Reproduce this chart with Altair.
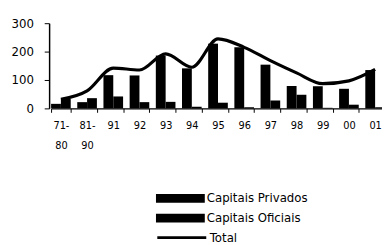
import altair as alt
import pandas as pd

categorias = ["71-80", "81-90", "91", "92", "93", "94", "95", "96", "97", "98", "99", "00", "01"]
privados = [16, 22, 117, 116, 186, 141, 228, 215, 154, 79, 78, 69, 135]
oficiais = [33, 36, 42, 22, 23, 6, 20, 4, 28, 48, 2, 13, 4]
total = [32, 62, 142, 135, 192, 145, 245, 215, 168, 125, 87, 97, 137]
y_ticks = [0, 100, 200, 300]

SER_P = "Capitais Privados"
SER_O = "Capitais Oficiais"
SER_T = "Total"

n = len(categorias)
bars_df = pd.DataFrame({
    "periodo": categorias * 2,
    "serie": [SER_P] * n + [SER_O] * n,
    "valor": privados + oficiais,
})
line_df = pd.DataFrame({"periodo": categorias, "valor": total, "serie": [SER_T] * n})

FONT = "DejaVu Sans"

xscale = alt.Scale(domain=categorias, range=[2, 343], paddingInner=0.25, paddingOuter=0)
yscale = alt.Scale(domain=[0, 300], nice=False)

x_axis = alt.Axis(
    title=None, labelAngle=0, tickBand="extent", tickSize=4, tickColor="black",
    domainColor="black", domainWidth=1.5, labelFont=FONT, labelFontSize=10, labelColor="black",
    labelPadding=9, labelLineHeight=20, labelBaseline="top",
    labelExpr="indexof(datum.label, '-') > 0 ? [slice(datum.label, 0, 3), slice(datum.label, 3)] : datum.label",
)
y_axis = alt.Axis(
    title=None, values=y_ticks, tickSize=5, tickColor="black", domainColor="black",
    domainWidth=1.5, labelFont=FONT, labelFontSize=12, labelColor="black", labelPadding=11,
    grid=False, labelOverlap=False,
)

bars = alt.Chart(bars_df).mark_bar(opacity=1).encode(
    x=alt.X("periodo:N", scale=xscale, axis=x_axis, sort=categorias),
    xOffset=alt.XOffset("serie:N", sort=[SER_P, SER_O], scale=alt.Scale(paddingInner=0, paddingOuter=0)),
    y=alt.Y("valor:Q", scale=yscale, axis=y_axis),
    color=alt.Color(
        "serie:N",
        scale=alt.Scale(domain=[SER_P, SER_O], range=["black", "black"]),
        legend=alt.Legend(
            title=None, orient="none", legendX=109, legendY=173, padding=0,
            symbolType="M-1,-0.18H1V0.18H-1Z", symbolSize=2500, symbolStrokeWidth=0,
            symbolOpacity=1, labelFont=FONT, labelFontSize=12, labelColor="black",
            labelOffset=2, rowPadding=8, clipHeight=12,
        ),
    ),
)

line = alt.Chart(line_df).mark_line(interpolate="monotone", strokeWidth=3.2, color="black").encode(
    x=alt.X("periodo:N", scale=xscale, axis=x_axis, sort=categorias),
    y=alt.Y("valor:Q", scale=yscale, axis=y_axis),
    stroke=alt.Stroke(
        "serie:N",
        scale=alt.Scale(domain=[SER_T], range=["black"]),
        legend=alt.Legend(
            title=None, orient="none", legendX=109, legendY=213, padding=0,
            symbolType="stroke", symbolSize=2500, symbolStrokeWidth=3,
            labelFont=FONT, labelFontSize=12, labelColor="black", labelOffset=2,
            clipHeight=12,
        ),
    ),
)

chart = alt.layer(bars, line).properties(
    width=340, height=87,
    autosize=alt.AutoSizeParams(type="none"),
    padding={"left": 42, "top": 13, "right": 0, "bottom": 137},
).configure_view(stroke=None)

chart.save("out.html", embed_options={"renderer": "svg", "actions": False})
